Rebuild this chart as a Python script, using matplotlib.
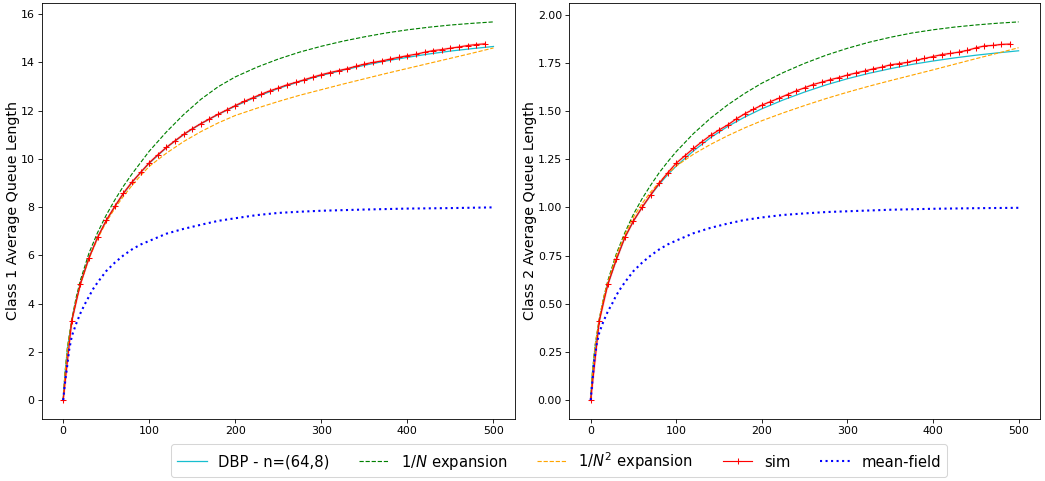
import matplotlib
matplotlib.use('Agg')
import matplotlib.pyplot as plt

# common x grid for the analytic curves
x_curve = [0, 2, 5, 10, 15, 20, 30, 40, 50, 60, 70, 80, 90, 100, 120, 140, 160, 180, 200,
           225, 250, 275, 300, 325, 350, 375, 400, 425, 450, 475, 500]
# x grid for the mean-field curve
x_mf = [0, 2, 4, 7, 10, 15, 20, 25, 30, 35, 40, 50, 60, 70, 80, 90, 100, 120, 140, 160, 180,
        200, 225, 250, 275, 300, 350, 400, 450, 500]
# simulation points
x_sim = list(range(0, 500, 10))

# ---- class 1 ----
dbp_1 = [0, 1.05, 2.15, 3.28, 4.13, 4.82, 5.90, 6.74, 7.44, 8.03, 8.56, 9.03, 9.44, 9.82,
         10.47, 11.01, 11.46, 11.84, 12.19, 12.58, 12.92, 13.21, 13.46, 13.68, 13.88, 14.06,
         14.21, 14.35, 14.47, 14.57, 14.66]
exp1_1 = [0, 1.1, 2.2, 3.35, 4.25, 4.97, 6.1, 6.95, 7.67, 8.3, 8.87, 9.38, 9.85, 10.32,
          11.12, 11.84, 12.47, 12.99, 13.4, 13.80, 14.14, 14.43, 14.67, 14.88, 15.06, 15.22,
          15.35, 15.46, 15.55, 15.62, 15.68]
exp2_1 = [0, 1.05, 2.15, 3.28, 4.12, 4.8, 5.88, 6.7, 7.38, 7.95, 8.45, 8.9, 9.31, 9.69,
          10.24, 10.72, 11.13, 11.49, 11.8, 12.1, 12.38, 12.64, 12.87, 13.1, 13.32, 13.54,
          13.75, 13.96, 14.17, 14.38, 14.6]
sim_1 = [0, 3.29, 4.82, 5.90, 6.75, 7.45, 8.03, 8.58, 9.04, 9.44, 9.84, 10.17, 10.48, 10.75,
         11.02, 11.25, 11.46, 11.66, 11.85, 12.03, 12.21, 12.38, 12.53, 12.68, 12.82, 12.94,
         13.07, 13.17, 13.28, 13.39, 13.49, 13.58, 13.66, 13.74, 13.84, 13.93, 14.00, 14.06,
         14.14, 14.21, 14.28, 14.34, 14.42, 14.49, 14.53, 14.59, 14.64, 14.70, 14.74, 14.77]
mf_1 = [0, 0.7, 1.24, 2.1, 2.65, 3.16, 3.6, 3.97, 4.3, 4.62, 4.88, 5.35, 5.7, 6.0, 6.25,
        6.45, 6.6, 6.9, 7.1, 7.27, 7.43, 7.54, 7.67, 7.76, 7.81, 7.85, 7.9, 7.94, 7.96, 7.99]

# ---- class 2 ----
dbp_2 = [0, 0.14, 0.27, 0.41, 0.52, 0.60, 0.73, 0.845, 0.93, 1.0, 1.063, 1.12, 1.17, 1.215,
         1.293, 1.362, 1.42, 1.469, 1.512, 1.558, 1.599, 1.636, 1.668, 1.696, 1.72, 1.742,
         1.76, 1.776, 1.79, 1.802, 1.813]
exp1_2 = [0, 0.14, 0.28, 0.42, 0.53, 0.62, 0.76, 0.87, 0.965, 1.045, 1.115, 1.18, 1.237,
          1.29, 1.383, 1.463, 1.532, 1.592, 1.645, 1.70, 1.748, 1.79, 1.826, 1.857, 1.883,
          1.905, 1.922, 1.936, 1.947, 1.956, 1.963]
exp2_2 = [0, 0.14, 0.28, 0.42, 0.53, 0.61, 0.75, 0.86, 0.95, 1.02, 1.08, 1.13, 1.175, 1.215,
          1.276, 1.327, 1.372, 1.413, 1.45, 1.491, 1.529, 1.565, 1.598, 1.629, 1.658, 1.686,
          1.714, 1.743, 1.772, 1.80, 1.829]
sim_2 = [0, 0.41, 0.60, 0.73, 0.845, 0.93, 1.00, 1.065, 1.125, 1.18, 1.23, 1.268, 1.306,
         1.341, 1.374, 1.402, 1.428, 1.459, 1.486, 1.509, 1.531, 1.549, 1.567, 1.586, 1.605,
         1.621, 1.638, 1.650, 1.663, 1.674, 1.687, 1.698, 1.708, 1.719, 1.728, 1.740, 1.746,
         1.753, 1.764, 1.773, 1.783, 1.793, 1.799, 1.806, 1.815, 1.828, 1.838, 1.841, 1.846,
         1.848]
mf_2 = [0, 0.1, 0.2, 0.29, 0.35, 0.41, 0.46, 0.5, 0.545, 0.58, 0.612, 0.67, 0.713, 0.75,
        0.782, 0.808, 0.828, 0.866, 0.894, 0.916, 0.935, 0.948, 0.961, 0.969, 0.976, 0.98,
        0.988, 0.993, 0.996, 0.998]

fig = plt.figure(figsize=(1045 / 75, 481 / 75), dpi=75)
ax1 = fig.add_axes([0.0399, 0.1289, 0.4529, 0.8649])
ax2 = fig.add_axes([0.5448, 0.1289, 0.4504, 0.8649])


def draw(ax, dbp, exp1, exp2, sim, mf, ylabel):
    ax.plot(x_curve, dbp, color='#17becf', lw=1.2, label='DBP - n=(64,8)')
    ax.plot(x_curve, exp1, '--', color='green', lw=1.1, label='$1/N$ expansion')
    ax.plot(x_curve, exp2, '--', color='orange', lw=1.1, label='$1/N^2$ expansion')
    ax.plot(x_sim, sim, color='red', lw=2.5, alpha=0.15)
    ax.plot(x_sim, sim, color='red', lw=1.1, marker='+', ms=5.5, label='sim')
    ax.plot(x_mf, mf, ':', color='blue', lw=2, label='mean-field')
    ax.set_ylabel(ylabel, fontsize=13.7, labelpad=0.5)
    ax.tick_params(labelsize=10.5)


draw(ax1, dbp_1, exp1_1, exp2_1, sim_1, mf_1, 'Class 1 Average Queue Length')
draw(ax2, dbp_2, exp1_2, exp2_2, sim_2, mf_2, 'Class 2 Average Queue Length')

handles, labels = ax1.get_legend_handles_labels()
fig.legend(handles, labels, loc='lower center', bbox_to_anchor=(0.535, -0.008),
           ncol=5, fontsize=14.2)

fig.savefig('out.png', dpi=75)
